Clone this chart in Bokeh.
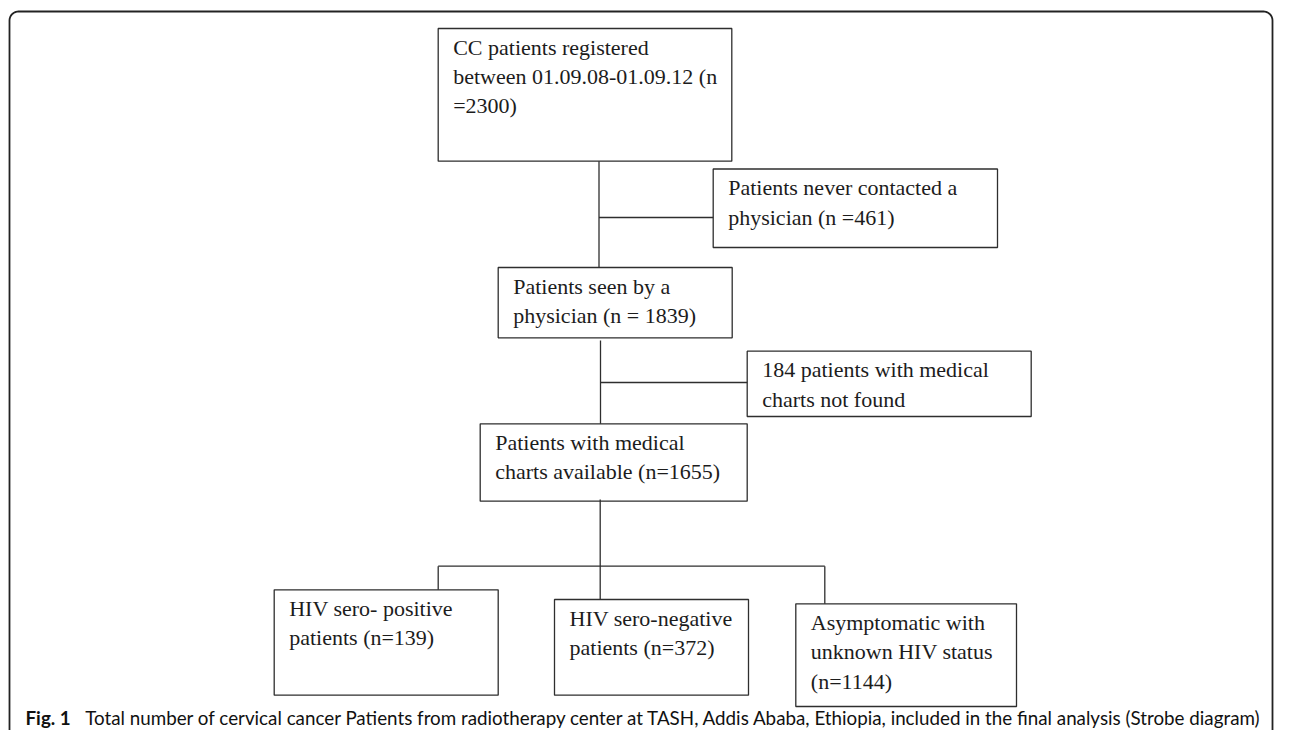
import numpy as np
from bokeh.plotting import figure
from bokeh.models import Range1d, ColumnDataSource
from bokeh.core.properties import value
from bokeh.embed import file_html
from bokeh.resources import INLINE

# ---------------- data ----------------
stage_counts = [2300, 461, 1839, 184, 1655, 139, 372, 1144]
stage_lines = [
    ["CC patients registered", "between 01.09.08-01.09.12 (n", "={n})"],
    ["Patients never contacted a", "physician (n ={n})"],
    ["Patients seen by a", "physician (n = {n})"],
    ["{n} patients with medical", "charts not found"],
    ["Patients with medical", "charts available (n={n})"],
    ["HIV sero- positive", "patients (n={n})"],
    ["HIV sero-negative", "patients (n={n})"],
    ["Asymptomatic with", "unknown HIV status", "(n={n})"],
]
caption_label = "Fig. 1"
caption_text = ("Total number of cervical cancer Patients from radiotherapy center at TASH, "
                "Addis Ababa, Ethiopia, included in the final analysis (Strobe diagram)")

# ---------------- layout (page geometry, px) ----------------
box_left = [437.7, 712.7, 497.7, 746.7, 479.7, 273.7, 554.0, 795.3]
box_top = [28.0, 168.5, 267.0, 350.7, 423.3, 589.3, 599.0, 603.3]
box_right = [731.3, 997.0, 731.7, 1030.7, 746.7, 497.7, 748.0, 1016.0]
box_bottom = [160.7, 247.0, 337.3, 416.0, 500.7, 694.7, 694.7, 706.0]
pad_x = 15.0
first_base = 27.7
line_step = 29.3
base_fix = 9.0          # renderer places alphabetic baseline this much lower

W, H = 1274, 730
p = figure(width=W, height=H, output_backend="svg", toolbar_location=None,
           x_range=Range1d(0, W), y_range=Range1d(H, 0),
           x_axis_type=None, y_axis_type=None, min_border=0,
           background_fill_color="white", border_fill_color="white")
p.grid.visible = False
p.outline_line_color = None

line_col = "#2e2e2e"
text_col = "#1c1c1c"

# outer rounded frame
r = 9.0
fl, ft, fr, fb = 9.0, 11.0, 1272.0, 800.0
a1 = np.linspace(np.pi, 1.5 * np.pi, 12)
a2 = np.linspace(1.5 * np.pi, 2 * np.pi, 12)
fx = np.concatenate([[fl], fl + r + r * np.cos(a1), fr - r + r * np.cos(a2), [fr]])
fy = np.concatenate([[fb], ft + r + r * np.sin(a1), ft + r + r * np.sin(a2), [fb]])
p.line(fx, fy, line_color="#222222", line_width=1.8)

# boxes
p.quad(left=box_left, right=box_right, top=box_top, bottom=box_bottom,
       fill_color=None, line_color=line_col, line_width=1.3)

# connectors
spine1, spine2, spine3 = 598.5, 600.0, 599.7
branch_y = 565.7
side1_y, side2_y = 217.0, 382.0
pos_x, asym_x = 437.7, 824.3
xs = [
    [spine1, spine1], [spine1, box_left[1]],
    [spine2, spine2], [spine2, box_left[3]],
    [spine3, spine3],
    [pos_x, asym_x], [pos_x, pos_x], [asym_x, asym_x],
]
ys = [
    [box_bottom[0], box_top[2]], [side1_y, side1_y],
    [box_bottom[2] + 2.7, box_top[4]], [side2_y, side2_y],
    [box_bottom[4] - 1.7, box_top[6]],
    [branch_y, branch_y], [branch_y, box_top[5]], [branch_y, box_top[7]],
]
p.multi_line(xs, ys, line_color=line_col, line_width=1.3)

# box texts
tx, ty, tt = [], [], []
for i, lines in enumerate(stage_lines):
    for j, ln in enumerate(lines):
        tx.append(box_left[i] + pad_x)
        ty.append(box_top[i] + first_base + j * line_step - base_fix)
        tt.append(ln.format(n=stage_counts[i]))
src = ColumnDataSource(dict(x=tx, y=ty, text=tt))
p.text(x="x", y="y", text="text", source=src, text_font=value("Liberation Serif"),
       text_font_size="22px", text_color=text_col, text_align="left",
       text_baseline="alphabetic")

# caption
cap_y = 725.0 - base_fix * 18.8 / 22.0
p.text(x=[25.0], y=[cap_y], text=[caption_label], text_font=value("Lato"),
       text_font_style="bold", text_font_size="18.8px", text_color="#111111",
       text_align="left", text_baseline="alphabetic")
p.text(x=[84.7], y=[cap_y], text=[caption_text], text_font=value("Lato"),
       text_font_size="18.8px", text_color="#111111",
       text_align="left", text_baseline="alphabetic")

open("out.html", "w").write(file_html(p, INLINE))
